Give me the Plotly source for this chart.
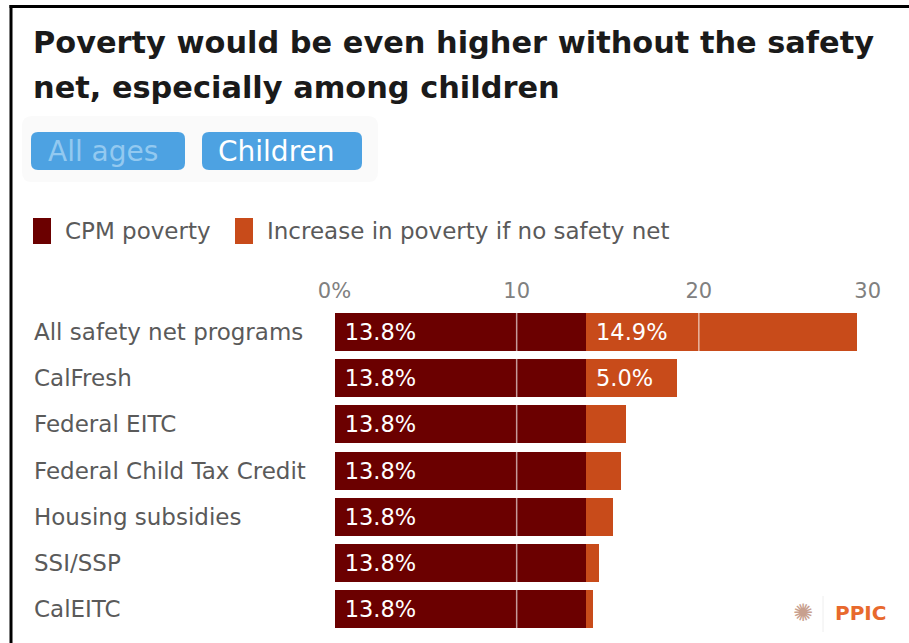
import plotly.graph_objects as go

W, H = 909, 643

categories = ["All safety net programs", "CalFresh", "Federal EITC",
              "Federal Child Tax Credit", "Housing subsidies", "SSI/SSP", "CalEITC"]
cpm_poverty = [13.8, 13.8, 13.8, 13.8, 13.8, 13.8, 13.8]
increase_no_safety_net = [14.9, 5.0, 2.2, 1.9, 1.5, 0.7, 0.4]
tick_vals = [0, 10, 20, 30]
tick_text = ["0%", "10", "20", "30"]

DARK = "#6b0000"
ORANGE = "#c84b1a"
FONT = "DejaVu Sans"
GRAY = "#5a5a5a"


def px(x):
    return x / W


def py(y):
    return 1 - y / H


fig = go.Figure()
fig.add_trace(go.Bar(
    y=categories, x=cpm_poverty, orientation="h", name="CPM poverty",
    marker=dict(color=DARK, line=dict(width=0)),
    text=["\u00a0%.1f%%" % v for v in cpm_poverty],
    textposition="inside", insidetextanchor="start", constraintext="none",
    textfont=dict(color="white", size=22.5, family=FONT),
    hoverinfo="skip",
))
fig.add_trace(go.Bar(
    y=categories, x=increase_no_safety_net, orientation="h",
    name="Increase in poverty if no safety net",
    marker=dict(color=ORANGE, line=dict(width=0)),
    text=[("\u00a0%.1f%%" % v) if v >= 3 else "" for v in increase_no_safety_net],
    textposition="inside", insidetextanchor="start", constraintext="none",
    textfont=dict(color="white", size=22.5, family=FONT),
    hoverinfo="skip",
))

# the last tick label is pulled left so it ends at the axis edge
tick_text_disp = list(tick_text)
tick_text_disp[-1] = tick_text[-1] + "\u00a0" * 4

shapes = []
annotations = []

# gridlines drawn over the bars (white, as in the original)
for v in tick_vals[1:-1]:
    shapes.append(dict(type="line", xref="x", yref="paper", x0=v, x1=v,
                       y0=1 - 632.1 / H, y1=1 - 308.9 / H, layer="above",
                       line=dict(color="rgba(255,255,255,0.6)", width=1.5)))

# frame (cropped box)
shapes.append(dict(type="line", xref="paper", yref="paper", x0=px(9.5), x1=1.01,
                   y0=py(6.5), y1=py(6.5), line=dict(color="black", width=3)))
shapes.append(dict(type="line", xref="paper", yref="paper", x0=px(11), x1=px(11),
                   y0=py(5), y1=-0.01, line=dict(color="black", width=3)))

# title
annotations.append(dict(text="<b>Poverty would be even higher without the safety</b>",
                        xref="paper", yref="paper", x=px(31), y=py(42),
                        xanchor="left", yanchor="middle", showarrow=False,
                        font=dict(family=FONT, size=30.4, color="#1a1a1a")))
annotations.append(dict(text="<b>net, especially among children</b>",
                        xref="paper", yref="paper", x=px(31), y=py(87),
                        xanchor="left", yanchor="middle", showarrow=False,
                        font=dict(family=FONT, size=30.4, color="#1a1a1a")))


def rounded_rect(x0, y0, x1, y1, r):
    X0, X1 = px(x0), px(x1)
    Y0, Y1 = py(y0), py(y1)
    rx, ry = r / W, r / H
    return (f"M {X0+rx},{Y0} L {X1-rx},{Y0} Q {X1},{Y0} {X1},{Y0-ry} "
            f"L {X1},{Y1+ry} Q {X1},{Y1} {X1-rx},{Y1} L {X0+rx},{Y1} "
            f"Q {X0},{Y1} {X0},{Y1+ry} L {X0},{Y0-ry} Q {X0},{Y0} {X0+rx},{Y0} Z")


# button bar container
shapes.append(dict(type="path", xref="paper", yref="paper",
                   path=rounded_rect(22, 116, 378, 182, 10),
                   fillcolor="#fafafa", line=dict(width=0), layer="below"))
shapes.append(dict(type="path", xref="paper", yref="paper",
                   path=rounded_rect(31, 132, 185, 170, 7),
                   fillcolor="#4da2e2", line=dict(width=0)))
shapes.append(dict(type="path", xref="paper", yref="paper",
                   path=rounded_rect(202, 132, 362, 170, 7),
                   fillcolor="#4da2e2", line=dict(width=0)))
annotations.append(dict(text="All ages", xref="paper", yref="paper",
                        x=px(103), y=py(151), xanchor="center", yanchor="middle",
                        showarrow=False, font=dict(family=FONT, size=28, color="#93c9f0")))
annotations.append(dict(text="Children", xref="paper", yref="paper",
                        x=px(276), y=py(151), xanchor="center", yanchor="middle",
                        showarrow=False, font=dict(family=FONT, size=28, color="white")))

# legend
shapes.append(dict(type="rect", xref="paper", yref="paper", x0=px(33), x1=px(51),
                   y0=py(244), y1=py(218), fillcolor=DARK, line=dict(width=0)))
shapes.append(dict(type="rect", xref="paper", yref="paper", x0=px(235), x1=px(253),
                   y0=py(244), y1=py(218), fillcolor=ORANGE, line=dict(width=0)))
annotations.append(dict(text="CPM poverty", xref="paper", yref="paper",
                        x=px(63), y=py(231), xanchor="left", yanchor="middle",
                        showarrow=False, font=dict(family=FONT, size=23, color=GRAY)))
annotations.append(dict(text="Increase in poverty if no safety net", xref="paper", yref="paper",
                        x=px(265), y=py(231), xanchor="left", yanchor="middle",
                        showarrow=False, font=dict(family=FONT, size=23, color=GRAY)))

# category labels (left aligned)
for c in categories:
    annotations.append(dict(text=c, xref="paper", yref="y", x=px(32), y=c,
                            xanchor="left", yanchor="middle", showarrow=False,
                            font=dict(family=FONT, size=23, color=GRAY)))

# logo
shapes.append(dict(type="line", xref="paper", yref="paper", x0=px(823), x1=px(823),
                   y0=py(596), y1=py(632), line=dict(color="#eeeeee", width=1)))
annotations.append(dict(text="\u273a", xref="paper", yref="paper", x=px(803), y=py(613),
                        xanchor="center", yanchor="middle", showarrow=False,
                        font=dict(family="DejaVu Sans", size=24, color="#c8a08e")))
annotations.append(dict(text="<b>PPIC</b>", xref="paper", yref="paper", x=px(833), y=py(613),
                        xanchor="left", yanchor="middle", showarrow=False,
                        font=dict(family="DejaVu Sans", size=20, color="#e8692d")))

fig.update_layout(
    width=W, height=H, autosize=False,
    margin=dict(l=0, r=0, t=0, b=0, autoexpand=False),
    paper_bgcolor="white", plot_bgcolor="white",
    barmode="stack", bargap=0.177,
    showlegend=False,
    shapes=shapes, annotations=annotations,
    font=dict(family=FONT),
    xaxis=dict(domain=[px(334.5), px(881)], range=[0, 30], side="top",
               tickvals=tick_vals, ticktext=tick_text_disp,
               showgrid=False, zeroline=False, showline=False, ticks="",
               tickfont=dict(family=FONT, size=21, color="#808080"),
               ticklabelstandoff=6, ticklabeloverflow="allow",
               automargin=False, fixedrange=True),
    yaxis=dict(domain=[1 - 632.1 / H, 1 - 308.9 / H], autorange="reversed",
               showticklabels=False, showgrid=False, zeroline=False,
               showline=False, ticks="", automargin=False, fixedrange=True),
)

fig.write_html("out.html")
